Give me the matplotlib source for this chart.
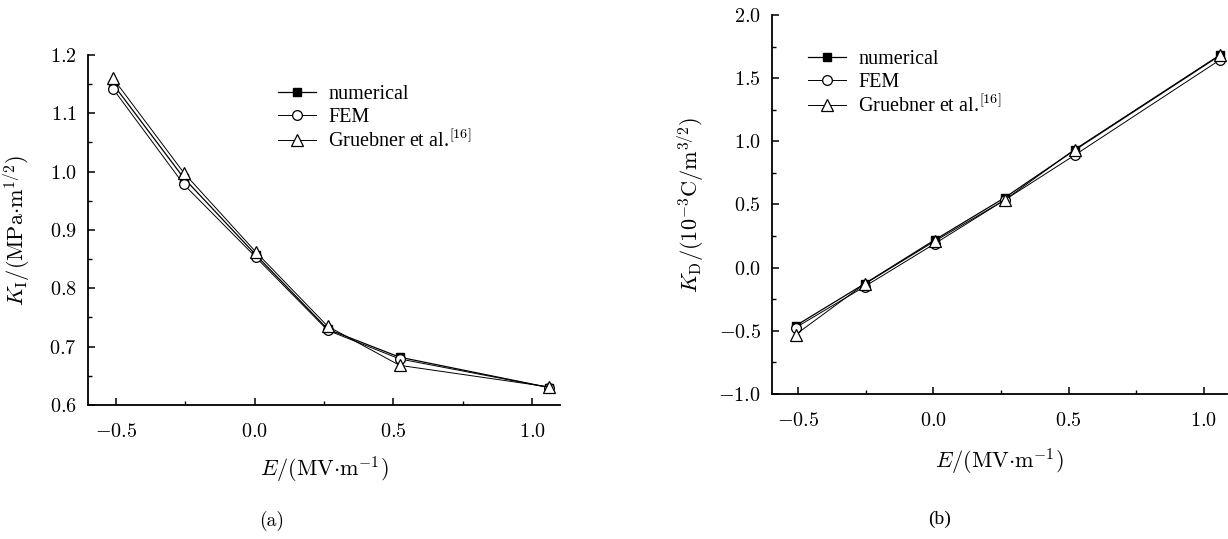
import matplotlib
matplotlib.use('Agg')
import matplotlib.pyplot as plt
from matplotlib.ticker import MultipleLocator

plt.rcParams['font.family'] = 'cmr10'
plt.rcParams['mathtext.fontset'] = 'cm'
plt.rcParams['axes.formatter.use_mathtext'] = True

# electric field values (same for both panels)
e_field = [-0.51, -0.255, 0.005, 0.263, 0.522, 1.06]

# panel (a): K_I
ki_numerical = [1.150, 0.989, 0.857, 0.730, 0.682, 0.630]
ki_fem = [1.142, 0.978, 0.853, 0.728, 0.679, 0.630]
ki_gruebner = [1.160, 0.998, 0.862, 0.735, 0.668, 0.631]

# panel (b): K_D
kd_numerical = [-0.46, -0.128, 0.22, 0.553, 0.93, 1.68]
kd_fem = [-0.475, -0.15, 0.19, 0.535, 0.89, 1.645]
kd_gruebner = [-0.53, -0.13, 0.21, 0.535, 0.935, 1.685]

labels = ['numerical', 'FEM', 'Gruebner et al.$^{[16]}$']

fig = plt.figure(figsize=(12.28, 5.39), dpi=100)
ax_a = fig.add_axes([0.0717, 0.2486, 0.3844, 0.6494])
ax_b = fig.add_axes([0.6287, 0.269, 0.3703, 0.7032])


def draw_panel(ax, y_num, y_fem, y_gru):
    # three series: filled square, open circle, open triangle
    ax.plot(e_field, y_num, '-', color='black', lw=0.9, marker='s', ms=6,
            mfc='black', mec='black', label=labels[0])
    ax.plot(e_field, y_fem, '-', color='black', lw=0.7, marker='o', ms=7,
            mfc='white', mec='black', mew=0.9, label=labels[1])
    ax.plot(e_field, y_gru, '-', color='black', lw=0.7, marker='^', ms=8,
            mfc='white', mec='black', mew=0.9, label=labels[2])
    for side in ['top', 'right']:
        ax.spines[side].set_visible(False)
    for side in ['left', 'bottom']:
        ax.spines[side].set_linewidth(1.3)
    ax.xaxis.set_major_locator(MultipleLocator(0.5))
    ax.xaxis.set_minor_locator(MultipleLocator(0.25))
    ax.tick_params(which='both', direction='in', top=False, right=False)
    ax.tick_params(which='major', length=5, width=1.1, labelsize=14.5)
    ax.tick_params(which='minor', length=3, width=1.0)
    ax.tick_params(axis='x', which='major', pad=13)
    ax.tick_params(axis='y', which='major', pad=8)
    ax.xaxis.set_major_formatter(plt.FuncFormatter(lambda v, p: f'${v:.1f}$'))
    ax.yaxis.set_major_formatter(plt.FuncFormatter(lambda v, p: f'${v:.1f}$'))


legend_style = dict(loc='upper left', frameon=False, borderpad=0,
                    borderaxespad=0, handlelength=1.9, handletextpad=0.6,
                    labelspacing=0.17,
                    prop={'family': 'Liberation Serif', 'size': 14.5})

draw_panel(ax_a, ki_numerical, ki_fem, ki_gruebner)
ax_a.set_xlim(-0.6, 1.1)
ax_a.set_ylim(0.6, 1.2)
ax_a.yaxis.set_major_locator(MultipleLocator(0.1))
ax_a.yaxis.set_minor_locator(MultipleLocator(0.05))
ax_a.set_xlabel(r'$E/(\mathrm{MV{\cdot}m^{-1}})$', fontsize=16)
ax_a.set_ylabel(r'$K_{\mathrm{I}}/(\mathrm{MPa{\cdot}m^{1/2}})$', fontsize=16)
ax_a.xaxis.set_label_coords(0.5, -0.143)
ax_a.yaxis.set_label_coords(-0.119, 0.5)
ax_a.legend(bbox_to_anchor=(278 / 1228, 1 - 85 / 539),
            bbox_transform=fig.transFigure, **legend_style)

draw_panel(ax_b, kd_numerical, kd_fem, kd_gruebner)
ax_b.set_xlim(-0.597, 1.085)
ax_b.set_ylim(-1.0, 2.0)
ax_b.yaxis.set_major_locator(MultipleLocator(0.5))
ax_b.yaxis.set_minor_locator(MultipleLocator(0.25))
ax_b.set_xlabel(r'$E/(\mathrm{MV{\cdot}m^{-1}})$', fontsize=16)
ax_b.set_ylabel(r'$K_{\mathrm{D}}/(10^{-3}\mathrm{C/m^{3/2}})$', fontsize=16)
ax_b.xaxis.set_label_coords(0.5, -0.14)
ax_b.yaxis.set_label_coords(-0.145, 0.5)
ax_b.legend(bbox_to_anchor=(808 / 1228, 1 - 50 / 539),
            bbox_transform=fig.transFigure, **legend_style)

fig.text(272 / 1228, 1 - 521 / 539, '(a)', ha='center', va='center', fontsize=14)
fig.text(940 / 1228, 1 - 519 / 539, '(b)', ha='center', va='center', fontsize=14,
         family='Liberation Serif')

fig.savefig('out.png', dpi=100)
